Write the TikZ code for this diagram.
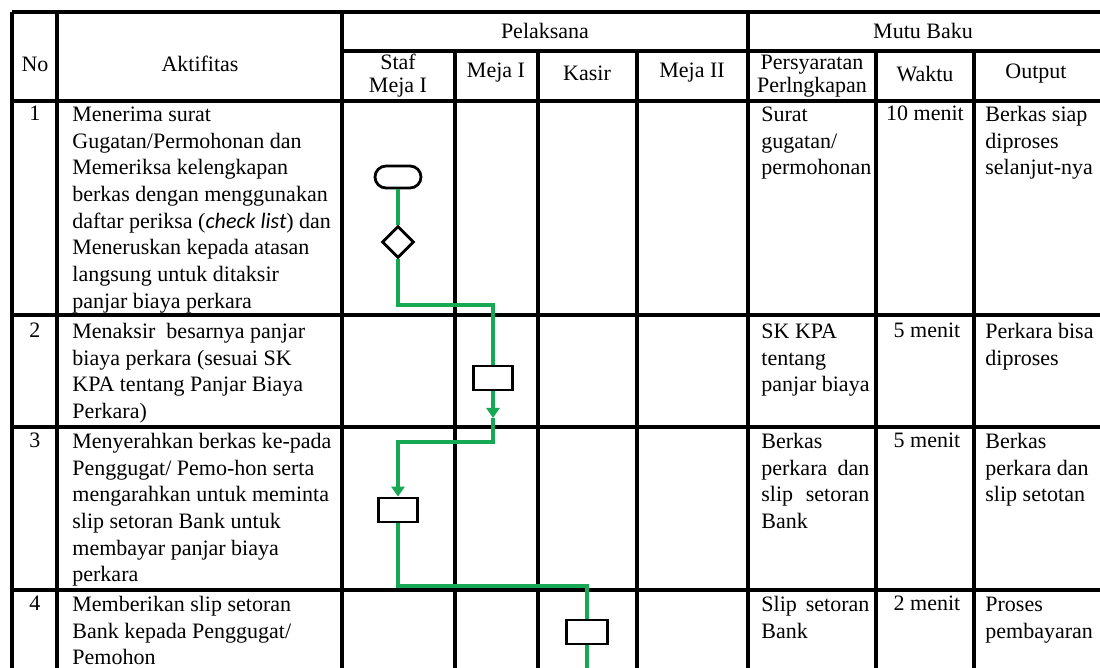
\documentclass[tikz,border=0pt]{standalone}
\usepackage{fontspec}
\setmainfont{Liberation Serif}
\newfontfamily\carl{Carlito}
\usetikzlibrary{shapes.geometric,arrows.meta}
\definecolor{flowgreen}{RGB}{22,168,82}
\begin{document}
\begin{tikzpicture}[x=0.5pt,y=-0.5pt,
  gridline/.style={line width=1.6pt,black},
  outerline/.style={line width=2pt,black},
  txt/.style={anchor=north west,inner sep=0pt,align=left,font=\fontsize{11}{13.35}\selectfont},
  hd/.style={anchor=center,inner sep=0pt,align=center,font=\fontsize{11}{13.35}\selectfont},
  hdtwo/.style={anchor=north,inner sep=0pt,align=center,font=\fontsize{11}{11.5}\selectfont},
  num/.style={anchor=base,inner sep=0pt,font=\fontsize{11}{13.35}\selectfont},
  capsule/.style={draw,line width=1.4pt,fill=white,rectangle,rounded corners=5.5pt,minimum width=23pt,minimum height=11pt,inner sep=0pt},
  decision/.style={draw,line width=1.4pt,fill=white,diamond,minimum width=16pt,minimum height=16pt,inner sep=0pt},
  procbox/.style={draw,line width=1.4pt,fill=white,rectangle,minimum width=19.5pt,minimum height=12pt,inner sep=0pt},
  flow/.style={draw=flowgreen,line width=1.7pt},
  flowarrow/.style={flow,-{Triangle[width=6.5pt,length=5pt]}}
]
\useasboundingbox (0,0) rectangle (1100,668);
% ---------- grid ----------
\draw[outerline] (12,12) -- (1100,12);
\draw[gridline] (342,51) -- (1100,51);
\foreach \yy in {101,315,427,590} \draw[gridline] (12,\yy) -- (1100,\yy);
\draw[outerline] (12,12) -- (12,668);
\foreach \xx in {57,342,748} \draw[gridline] (\xx,12) -- (\xx,668);
\foreach \xx in {455,538,637,876,974} \draw[gridline] (\xx,51) -- (\xx,668);
% ---------- headers ----------
\node[hd] (hNo) at (35,64) {No};
\node[hd] (hAkt) at (200,64) {Aktifitas};
\node[hd] (hPel) at (545,31) {Pelaksana};
\node[hd] (hMutu) at (923,31) {Mutu Baku};
\node[hdtwo] (hStaf) at (398,53.5) {\strut Staf\\Meja I};
\node[hd] (hM1) at (496,73) {Meja I};
\node[hd] (hKas) at (587,73) {Kasir};
\node[hd] (hM2) at (692,73) {Meja II};
\node[hdtwo] (hPers) at (812,53.5) {\strut Persyaratan\\Perlngkapan};
\node[hd] (hW) at (925,74) {Waktu};
\node[hd] (hOut) at (1036,74) {Output};
% ---------- numbers ----------
\node[num] (n1) at (35,121) {1};
\node[num] (n2) at (35,338) {2};
\node[num] (n3) at (35,448) {3};
\node[num] (n4) at (35,611) {4};
% ---------- activities ----------
\node[txt] (a1) at (72,102.3) {\strut Menerima surat\\Gugatan/Permohonan dan\\Memeriksa kelengkapan\\berkas dengan menggunakan\\daftar periksa ({\carl\itshape check list}) dan\\Meneruskan kepada atasan\\langsung untuk ditaksir\\panjar biaya perkara};
\node[txt] (a2) at (72,319.3) {\strut Menaksir\ \ besarnya panjar\\biaya perkara (sesuai SK\\KPA tentang Panjar Biaya\\Perkara)};
\node[txt] (a3) at (72,429.3) {\strut Menyerahkan berkas ke-pada\\Penggugat/ Pemo-hon serta\\mengarahkan untuk meminta\\slip setoran Bank untuk\\membayar panjar biaya\\perkara};
\node[txt] (a4) at (72,592.3) {\strut Memberikan slip setoran\\Bank kepada Penggugat/\\Pemohon};
% ---------- persyaratan ----------
\node[txt] (p1) at (761,102.3) {\strut Surat\\gugatan/\\permohonan};
\node[txt] (p2) at (761,319.3) {\strut SK KPA\\tentang\\panjar biaya};
\node[txt] (p3) at (761,429.3) {\strut Berkas\\\makebox[54pt][s]{perkara dan}\\\makebox[54pt][s]{slip setoran}\\Bank};
\node[txt] (p4) at (761,592.3) {\strut\makebox[54pt][s]{Slip setoran}\\Bank};
% ---------- waktu ----------
\node[num] (w1) at (925,121) {10 menit};
\node[num] (w2) at (927,338) {5 menit};
\node[num] (w3) at (927,448) {5 menit};
\node[num] (w4) at (927,611) {2 menit};
% ---------- output ----------
\node[txt] (o1) at (985,102.3) {\strut Berkas siap\\diproses\\selanjut-nya};
\node[txt] (o2) at (985,319.3) {\strut Perkara bisa\\diproses};
\node[txt] (o3) at (985,429.3) {\strut Berkas\\perkara dan\\slip setotan};
\node[txt] (o4) at (985,592.3) {\strut Proses\\pembayaran};
% ---------- flow shapes ----------
\node[capsule] (start) at (398,177) {};
\node[decision] (dec) at (398,242) {};
\node[procbox] (r2) at (493,378) {};
\node[procbox] (r3) at (398,510) {};
\node[procbox,minimum width=20.5pt] (r4) at (587,632) {};
\coordinate (c1) at (493,305);
\coordinate (m2) at (493,418);
\coordinate (c2) at (493,442);
\coordinate (c3) at (587,586);
\coordinate (e4) at (587,668);
% ---------- flow connectors ----------
\draw[flow] (start.south) -- (dec.north);
\draw[flow] (dec.south) |- (c1) -- (r2.north);
\draw[flowarrow] (r2.south) -- (m2);
\draw[flowarrow] (m2) -- (c2) -| (r3.north);
\draw[flow] (r3.south) |- (c3) -- (r4.north);
\draw[flow] (r4.south) -- (e4);
\end{tikzpicture}
\end{document}
